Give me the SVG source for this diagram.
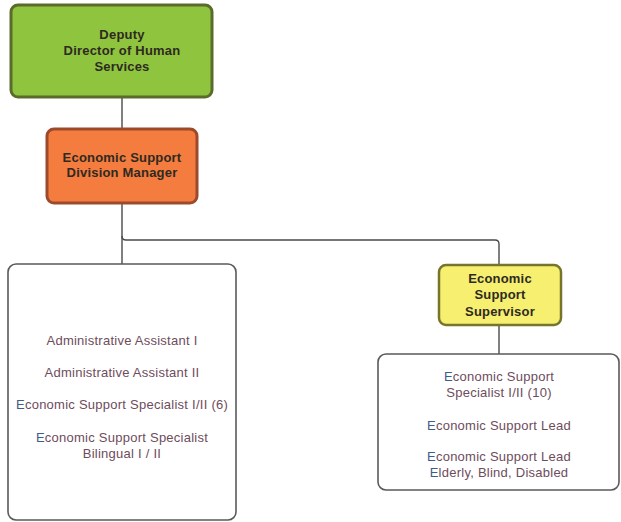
<svg xmlns="http://www.w3.org/2000/svg" width="621" height="522" viewBox="0 0 621 522">
  <style>
    .title { font-family: "Liberation Sans", Arial, sans-serif; font-weight: bold; font-size: 13px; fill: #2e2a22; text-anchor: middle; letter-spacing: 0.2px; }
    .item { font-family: "Liberation Sans", Arial, sans-serif; font-size: 13px; fill: #6e4c5c; text-anchor: middle; letter-spacing: 0.25px; }
    .cap { fill: #3c5c8c; }
    .link { fill: none; stroke: #4a4a4a; stroke-width: 1.4; }
    .group { fill: #ffffff; stroke: #5a5a5a; stroke-width: 1.6; }
  </style>

  <!-- reporting lines -->
  <g id="connectors">
    <path class="link" d="M122 97 V128"/>
    <path class="link" d="M122 203 V236 Q122 240 126 240 H495 Q499 240 499 244 V265"/>
    <path class="link" d="M122 236 V264"/>
    <path class="link" d="M499 325 V355"/>
  </g>

  <g id="deputy-director">
    <rect x="11" y="5" width="201" height="92" rx="7" fill="#8fc43e" stroke="#5b6b2c" stroke-width="3"/>
    <text class="title" x="122" y="39">Deputy</text>
    <text class="title" x="122" y="55">Director of Human</text>
    <text class="title" x="122" y="71">Services</text>
  </g>

  <g id="division-manager">
    <rect x="47" y="129" width="150" height="74" rx="7" fill="#f47c3e" stroke="#9c4a2c" stroke-width="3"/>
    <text class="title" x="122" y="162">Economic Support</text>
    <text class="title" x="122" y="177">Division Manager</text>
  </g>

  <g id="admin-staff">
    <rect class="group" x="8" y="264" width="228" height="256" rx="8"/>
    <text class="item" x="122" y="345">Administrative Assistant I</text>
    <text class="item" x="122" y="377">Administrative Assistant II</text>
    <text class="item" x="122" y="409"><tspan class="cap">E</tspan>conomic Support Specialist I/II (6)</text>
    <text class="item" x="122" y="442"><tspan class="cap">E</tspan>conomic Support Specialist</text>
    <text class="item" x="122" y="458">Bilingual I / II</text>
  </g>

  <g id="support-supervisor">
    <rect x="439" y="265" width="122" height="60" rx="7" fill="#f6ef70" stroke="#77742c" stroke-width="2.5"/>
    <text class="title" x="500" y="283">Economic</text>
    <text class="title" x="500" y="299">Support</text>
    <text class="title" x="500" y="316">Supervisor</text>
  </g>

  <g id="support-staff">
    <rect class="group" x="378" y="354" width="241" height="136" rx="8"/>
    <text class="item" x="499" y="381"><tspan class="cap">E</tspan>conomic Support</text>
    <text class="item" x="499" y="397">Specialist I/II (10)</text>
    <text class="item" x="499" y="430"><tspan class="cap">E</tspan>conomic Support Lead</text>
    <text class="item" x="499" y="461"><tspan class="cap">E</tspan>conomic Support Lead</text>
    <text class="item" x="499" y="477"><tspan class="cap">E</tspan>lderly, Blind, Disabled</text>
  </g>
</svg>
